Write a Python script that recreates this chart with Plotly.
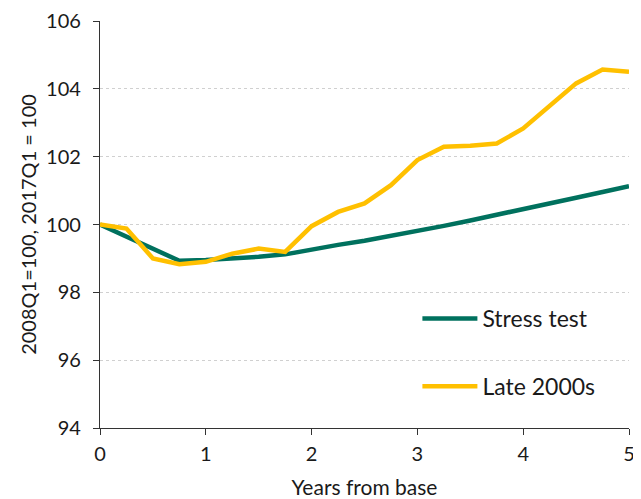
import plotly.graph_objects as go

years = [i * 0.25 for i in range(21)]
stress_test = [100.0, 99.64, 99.29, 98.93, 98.95, 98.99, 99.05, 99.12, 99.27,
               99.40, 99.52, 99.66, 99.80, 99.96, 100.12, 100.28, 100.45,
               100.62, 100.79, 100.96, 101.13]
late_2000s = [100.0, 99.88, 99.0, 98.83, 98.9, 99.14, 99.29, 99.19, 99.95,
              100.37, 100.62, 101.16, 101.9, 102.29, 102.32, 102.39, 102.83,
              103.49, 104.16, 104.57, 104.5]
x_ticks = [0, 1, 2, 3, 4, 5]
y_ticks = [94, 96, 98, 100, 102, 104, 106]

FONT = "Lato"
fig = go.Figure()
fig.add_trace(go.Scatter(x=years, y=stress_test, mode="lines", name="Stress test",
                         line=dict(color="#00715E", width=4.5), legendgroup="a"))
fig.add_trace(go.Scatter(x=years, y=late_2000s, mode="lines", name="Late 2000s",
                         line=dict(color="#FFC000", width=4.5), legendgroup="b"))

# page body has an 8px default margin; figure sized so the plot lands where the reference has it
fig.update_layout(
    width=633, height=491,
    margin=dict(l=92, r=12, t=13, b=71),
    paper_bgcolor="white", plot_bgcolor="white",
    font=dict(family=FONT, color="#1a1a1a", size=20),
    legend=dict(x=0.6, y=0.322, xanchor="left", yanchor="top",
                font=dict(size=23, family=FONT), tracegroupgap=35,
                bgcolor="rgba(0,0,0,0)", itemwidth=55),
    showlegend=True,
)
fig.update_xaxes(range=[0, 5], tickvals=x_ticks, showgrid=False, automargin=False,
                 showline=True, linecolor="#333333", linewidth=1.2,
                 ticks="outside", ticklen=6, tickcolor="#333333", ticklabelstandoff=2,
                 title=dict(text="Years from base", font=dict(size=21), standoff=18),
                 zeroline=False)
fig.update_yaxes(range=[94, 106], tickvals=y_ticks, showgrid=True, automargin=False,
                 gridcolor="#d0d0d0", griddash="dot", gridwidth=1,
                 showline=True, linecolor="#333333", linewidth=1.2,
                 ticks="outside", ticklen=6, tickcolor="#333333", ticklabelstandoff=8,
                 title=dict(text="2008Q1=100, 2017Q1 = 100", font=dict(size=20), standoff=4),
                 zeroline=False)
fig.write_html("out.html")
